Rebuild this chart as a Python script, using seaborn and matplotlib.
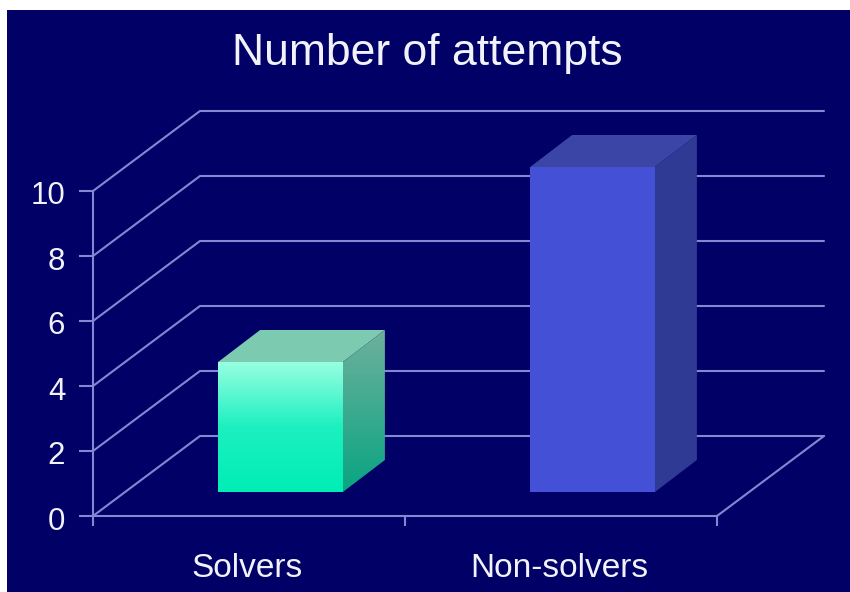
import numpy as np
import matplotlib
matplotlib.use("Agg")
import matplotlib.pyplot as plt
from matplotlib.colors import LinearSegmentedColormap
from matplotlib.patches import Polygon, Rectangle
from matplotlib.transforms import ScaledTranslation
import seaborn as sns

categories = ["Solvers", "Non-solvers"]
attempts = [4, 10]
y_ticks = [0, 2, 4, 6, 8, 10]
title = "Number of attempts"

NAVY = "#000066"
LINE = "#8487d2"
TEXT = "#f2f2fa"
W, H = 850, 592

sns.set_theme(style="white")
plt.rcParams["font.family"] = ["Liberation Sans", "DejaVu Sans"]

fig = plt.figure(figsize=(W / 100, H / 100), dpi=100, facecolor="white")
fig.add_artist(Rectangle((7 / W, 0), (W - 7) / W, (H - 10) / H, transform=fig.transFigure,
                         facecolor=NAVY, edgecolor="none", zorder=-5))


def px_axes(left, right, top, bottom):
    return fig.add_axes([left / W, 1 - bottom / H, (right - left) / W, (bottom - top) / H])


# front plane of the 3-D box, and the plane the bars stand on
AX_L, AX_R, AX_T, AX_B = 93, 717, 191, 516
ax = px_axes(AX_L, AX_R, AX_T, AX_B)
bar_ax = px_axes(AX_L + 31.5, AX_R + 31.5, AX_T - 24, AX_B - 24)
xlim = (-0.5, 1.5)
ylim = (0, 10)
px_x = (xlim[1] - xlim[0]) / (AX_R - AX_L)
px_y = (ylim[1] - ylim[0]) / (AX_B - AX_T)
DX, DY = 107 * px_x, 80 * px_y
BDX, BDY = 42 * px_x, 32 * px_y

ax.set_facecolor("none")
ax.set_xlim(*xlim)
ax.set_ylim(*ylim)
for v in y_ticks:
    ax.plot([xlim[0], xlim[0] + DX, xlim[1] + DX], [v, v + DY, v + DY],
            color=LINE, lw=1.5, clip_on=False, solid_joinstyle="miter", zorder=2)
ax.plot([xlim[1], xlim[1] + DX], [0, DY], color=LINE, lw=1.5, clip_on=False, zorder=2)

for s in ["top", "right"]:
    ax.spines[s].set_visible(False)
for s in ["left", "bottom"]:
    ax.spines[s].set_color(LINE)
    ax.spines[s].set_linewidth(1.5)
ax.set_yticks(y_ticks)
ax.set_yticklabels([str(v) for v in y_ticks], fontsize=22.5, color=TEXT)
ax.set_xticks(range(len(categories)))
ax.set_xticklabels(categories, fontsize=24, color=TEXT)
ax.set_xticks([xlim[0], 0.5, xlim[1]], minor=True)
ax.tick_params(axis="y", left=True, length=10, width=1.5, color=LINE, pad=10)
ax.tick_params(axis="x", which="major", bottom=False, length=0, pad=26.5)
ax.tick_params(axis="x", which="minor", bottom=True, length=7, width=1.5, color=LINE)
for lab in ax.get_yticklabels():
    lab.set_transform(lab.get_transform() + ScaledTranslation(0, -2 / 100, fig.dpi_scale_trans))
for lab in ax.get_xticklabels():
    lab.set_transform(lab.get_transform() + ScaledTranslation(-2 / 100, 0, fig.dpi_scale_trans))

sns.barplot(x=categories, y=attempts, hue=categories, palette=["#00f0b8", "#4450d6"],
            width=0.4, legend=False, saturation=1, linewidth=0, ax=bar_ax)
bar_ax.set_xlim(*xlim)
bar_ax.set_ylim(*ylim)
bar_ax.axis("off")

grad = np.linspace(0, 1, 256).reshape(-1, 1)
front_cm = LinearSegmentedColormap.from_list("f", ["#00eeb6", "#1cf0c0", "#98ffe2"])
side_cm = LinearSegmentedColormap.from_list("s", ["#08a582", "#6fb09c"])
top_cols = ["#7ccbb0", "#3a45a6"]
side_cols = [None, "#2f3a94"]

for i, p in enumerate(bar_ax.patches[:2]):
    p.set_clip_on(False)
    x0, x1 = p.get_x(), p.get_x() + p.get_width()
    v = p.get_height()
    top = Polygon([(x0, v), (x1, v), (x1 + BDX, v + BDY), (x0 + BDX, v + BDY)],
                  closed=True, facecolor=top_cols[i], edgecolor="none", clip_on=False, zorder=3)
    bar_ax.add_patch(top)
    side_pts = [(x1, 0), (x1 + BDX, BDY), (x1 + BDX, v + BDY), (x1, v)]
    if side_cols[i]:
        bar_ax.add_patch(Polygon(side_pts, closed=True, facecolor=side_cols[i],
                                 edgecolor="none", clip_on=False, zorder=3))
    else:
        poly = Polygon(side_pts, closed=True, facecolor="none", edgecolor="none",
                       transform=bar_ax.transData)
        bar_ax.add_patch(poly)
        im = bar_ax.imshow(grad, extent=[x1, x1 + BDX, 0, v + BDY], origin="lower",
                           aspect="auto", cmap=side_cm, zorder=3)
        im.set_clip_path(poly)
        im2 = bar_ax.imshow(grad, extent=[x0, x1, 0, v], origin="lower", aspect="auto",
                            cmap=front_cm, zorder=4)
    bar_ax.set_xlim(*xlim)
    bar_ax.set_ylim(*ylim)
    p.set_zorder(4 if side_cols[i] else 1)

fig.text(427 / W, 1 - 54 / H, title, fontsize=32, color=TEXT, ha="center", va="center")
fig.savefig("out.png", dpi=100)
